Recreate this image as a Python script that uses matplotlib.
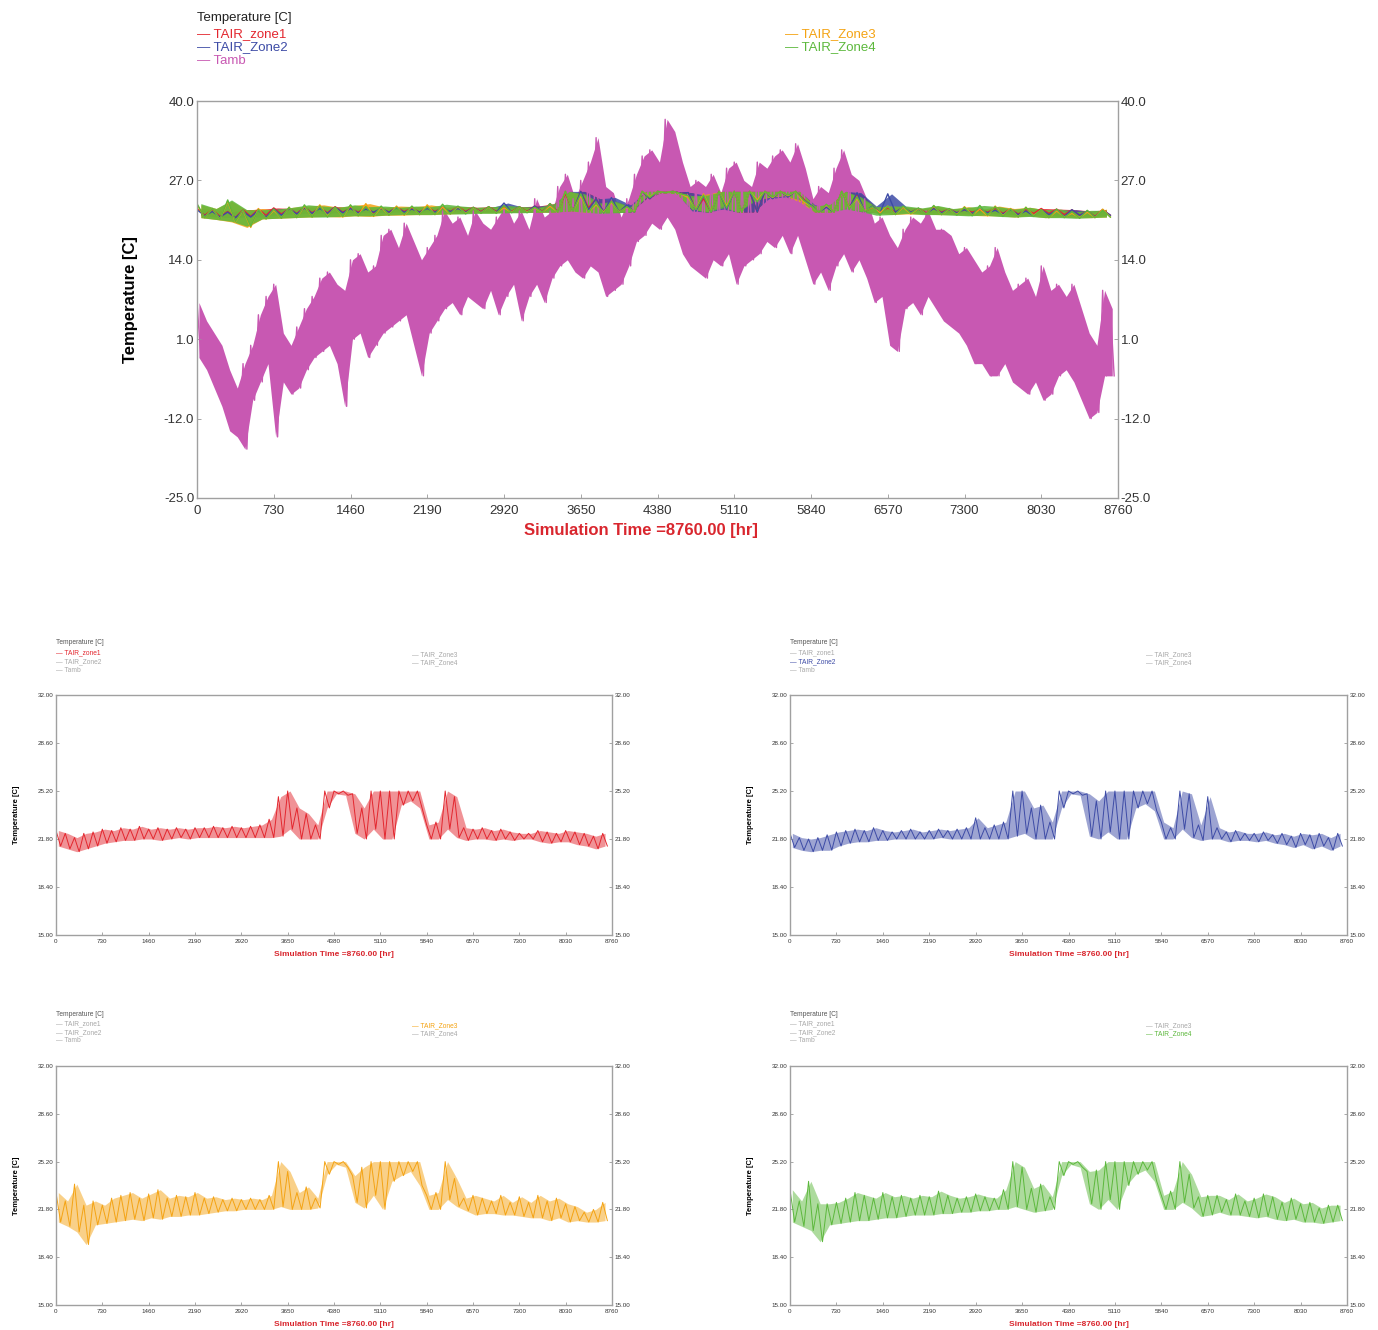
# Annual zone air temperatures vs. ambient (hourly simulation, 8760 hr)
import numpy as np
import matplotlib.pyplot as plt

plt.rcParams['font.family'] = ['Liberation Sans', 'DejaVu Sans']

# ambient temperature: upper / lower envelope every 73 hr
tamb_step = 73
tamb_hi = [7, 4, 2, 0, -4, -7, -3, 0, 5, 8, 10, 2, 0, 3, 6, 8, 11, 12, 10, 9,
           14, 15, 12, 13, 18, 19, 16, 20, 17, 14, 16, 18, 22, 20, 21, 18, 22, 20, 19, 21,
           23, 20, 22, 19, 24, 21, 22, 26, 28, 24, 27, 30, 34, 26, 25, 21, 24, 28, 31, 32,
           30, 37, 35, 30, 26, 27, 26, 28, 25, 29, 30, 27, 26, 30, 29, 31, 32, 30, 33, 29,
           24, 26, 25, 29, 32, 28, 27, 24, 20, 21, 18, 16, 19, 21, 20, 22, 19, 19, 18, 15,
           16, 14, 12, 13, 16, 12, 9, 10, 11, 8, 13, 9, 10, 8, 10, 6, 2, 0, 9, 6]
tamb_lo = [-2, -4, -7, -10, -14, -15, -17, -9, -6, -3, -15, -6, -8, -7, -4, -2, -1, 0, -3, -10,
           1, 2, -2, 0, 2, 3, 4, 5, 0, -5, 2, 4, 6, 7, 5, 8, 7, 6, 9, 5,
           8, 10, 4, 8, 10, 7, 11, 13, 14, 12, 11, 13, 12, 8, 9, 10, 13, 17, 18, 20,
           19, 21, 19, 15, 13, 12, 11, 14, 13, 15, 10, 13, 14, 15, 17, 16, 18, 15, 18, 14,
           10, 12, 9, 13, 15, 12, 14, 11, 7, 8, 0, -1, 6, 7, 5, 8, 6, 4, 3, 2,
           0, -3, -3, -5, -5, -3, -6, -7, -8, -6, -9, -8, -5, -4, -6, -9, -12, -11, -5, -5]

# zone air temperatures: upper / lower envelope every 146 hr
zone_step = 146
zone1_hi = [22.4, 22.2, 21.9, 22.2, 22.3, 22.5, 22.4, 22.6, 22.5, 22.7,
            22.5, 22.6, 22.5, 22.6, 22.5, 22.6, 22.6, 22.7, 22.6, 22.7,
            22.6, 22.7, 22.8, 23.2, 24.8, 25.2, 24.0, 23.6, 22.8, 25.2,
            25.2, 25.2, 25.0, 24.0, 25.2, 25.2, 25.2, 25.2, 25.2, 25.2,
            22.8, 23.0, 25.2, 24.8, 22.6, 22.5, 22.6, 22.4, 22.5, 22.3,
            22.2, 22.2, 22.4, 22.3, 22.2, 22.4, 22.3, 22.2, 22.0, 22.2]
zone1_lo = [21.3, 21.1, 20.9, 21.1, 21.3, 21.5, 21.6, 21.7, 21.7, 21.8,
            21.8, 21.7, 21.8, 21.9, 21.8, 21.9, 21.9, 21.9, 21.9, 21.9,
            21.9, 21.9, 21.9, 21.9, 22.0, 22.5, 21.8, 21.8, 21.8, 24.0,
            25.0, 24.9, 22.2, 21.8, 22.5, 21.8, 21.8, 24.2, 24.5, 24.0,
            21.8, 21.8, 22.5, 21.9, 21.7, 21.8, 21.8, 21.7, 21.8, 21.7,
            21.8, 21.8, 21.6, 21.5, 21.6, 21.6, 21.4, 21.3, 21.1, 21.3]
zone2_hi = [22.2, 21.9, 21.8, 21.9, 22.1, 22.3, 22.4, 22.5, 22.4, 22.6,
            22.4, 22.3, 22.4, 22.5, 22.3, 22.4, 22.5, 22.4, 22.5, 22.6,
            23.3, 22.6, 22.8, 23.0, 25.2, 25.2, 24.0, 24.2, 23.0, 25.2,
            25.2, 25.2, 25.0, 24.5, 25.2, 25.2, 25.2, 25.2, 25.2, 25.2,
            23.0, 22.6, 25.2, 25.0, 22.8, 24.8, 22.6, 22.3, 22.4, 22.2,
            22.2, 22.3, 22.1, 22.2, 22.0, 22.2, 22.1, 22.2, 21.9, 22.2]
zone2_lo = [21.2, 21.0, 20.9, 21.0, 21.0, 21.3, 21.5, 21.6, 21.6, 21.7,
            21.7, 21.8, 21.8, 21.8, 21.8, 21.8, 21.9, 21.8, 21.8, 21.8,
            21.8, 21.8, 21.8, 21.8, 22.0, 22.2, 21.8, 21.8, 21.8, 24.0,
            25.0, 24.9, 22.0, 21.8, 22.3, 21.8, 21.8, 24.0, 24.3, 23.8,
            21.8, 21.8, 22.5, 21.9, 21.7, 21.8, 21.8, 21.6, 21.7, 21.7,
            21.6, 21.7, 21.5, 21.4, 21.2, 21.4, 21.1, 21.3, 21.0, 21.3]
zone3_hi = [23.0, 22.4, 23.6, 22.1, 22.4, 22.1, 22.6, 22.8, 23.0, 22.6,
            22.9, 23.2, 22.6, 22.8, 22.7, 23.0, 22.6, 22.7, 22.5, 22.6,
            22.5, 22.6, 22.5, 22.8, 25.2, 24.5, 23.0, 23.4, 22.6, 25.2,
            25.2, 25.2, 24.2, 24.8, 25.2, 25.2, 25.2, 25.2, 25.2, 25.2,
            22.8, 23.0, 25.2, 24.0, 22.6, 22.8, 22.6, 22.4, 22.8, 22.3,
            22.7, 22.3, 22.8, 22.4, 22.6, 22.2, 22.0, 21.6, 21.8, 22.3]
zone3_lo = [20.9, 20.6, 20.2, 19.3, 20.7, 20.8, 20.9, 21.0, 21.1, 21.0,
            21.2, 21.1, 21.3, 21.3, 21.4, 21.4, 21.5, 21.6, 21.7, 21.7,
            21.8, 21.8, 21.8, 21.8, 22.0, 21.8, 21.8, 21.8, 21.9, 24.3,
            25.0, 24.8, 22.3, 21.9, 22.8, 21.8, 23.8, 24.2, 24.5, 23.5,
            21.8, 21.8, 22.5, 22.0, 21.7, 21.4, 21.5, 21.5, 21.4, 21.4,
            21.3, 21.2, 21.2, 21.0, 21.2, 20.9, 21.0, 20.9, 20.9, 21.0]
zone4_hi = [23.2, 22.4, 23.8, 22.2, 22.2, 22.3, 22.6, 23.0, 22.8, 22.6,
            23.0, 22.7, 22.8, 22.6, 22.8, 22.7, 23.1, 22.8, 22.6, 22.7,
            22.9, 22.7, 22.6, 23.2, 25.2, 24.8, 23.3, 23.6, 22.7, 25.2,
            25.2, 25.2, 24.5, 24.6, 25.2, 25.2, 25.2, 25.2, 25.2, 25.2,
            22.8, 23.1, 25.2, 24.3, 22.7, 22.8, 22.8, 22.5, 22.9, 22.4,
            22.6, 22.9, 22.7, 22.3, 22.6, 22.2, 22.3, 21.9, 22.1, 22.1]
zone4_lo = [20.9, 20.6, 20.3, 19.5, 20.7, 20.8, 20.9, 21.0, 21.0, 21.1,
            21.2, 21.2, 21.3, 21.4, 21.4, 21.4, 21.5, 21.5, 21.6, 21.6,
            21.7, 21.7, 21.8, 21.8, 22.0, 21.8, 21.6, 21.7, 21.8, 24.2,
            25.0, 24.8, 22.2, 21.8, 22.5, 21.8, 23.5, 24.3, 24.6, 23.8,
            21.8, 21.8, 22.3, 21.9, 21.3, 21.4, 21.6, 21.4, 21.4, 21.3,
            21.2, 21.3, 21.1, 21.0, 21.1, 20.9, 20.9, 20.8, 20.9, 21.0]

colors = {'TAIR_zone1': '#e3262e', 'TAIR_Zone2': '#3d4ba6', 'Tamb': '#c858b2',
          'TAIR_Zone3': '#f4a313', 'TAIR_Zone4': '#5cb83c'}
zones = {'TAIR_zone1': (zone1_hi, zone1_lo), 'TAIR_Zone2': (zone2_hi, zone2_lo),
         'TAIR_Zone3': (zone3_hi, zone3_lo), 'TAIR_Zone4': (zone4_hi, zone4_lo)}

hour_ticks = np.arange(0, 8761, 730)
sim_title = 'Simulation Time =8760.00 [hr]'
ylab = 'Temperature [C]'
title_red = '#d9262e'


def draw_trace(ax, hi, lo, step, color, lw, alpha):
    # band between interval max / min, plus a zigzag through them for the hourly swing
    hi = np.asarray(hi, float)
    lo = np.asarray(lo, float)
    t0 = np.arange(len(hi)) * step
    x = np.column_stack([t0, t0 + step / 2]).ravel()
    y = np.column_stack([hi, lo]).ravel()
    ax.fill_between(t0 + step / 4, lo, hi, color=color, alpha=alpha, lw=0)
    ax.plot(x, y, color=color, lw=lw)


W, H = 1378, 1330
fig = plt.figure(figsize=(W / 100, H / 100), dpi=100)


def px_axes(x0, y0, x1, y1):
    return fig.add_axes([x0 / W, 1 - y1 / H, (x1 - x0) / W, (y1 - y0) / H])


def style_axes(ax, yticks, fmt, fs, tick_len, xpad):
    ax.set_xlim(0, 8760)
    ax.set_ylim(yticks[0], yticks[-1])
    ax.set_xticks(hour_ticks)
    ax.set_xticklabels([str(v) for v in hour_ticks], fontsize=fs, color='#333333')
    ax.set_yticks(yticks)
    ax.set_yticklabels([fmt.format(v) for v in yticks], fontsize=fs, color='#333333')
    ax.tick_params(axis='both', direction='in', length=tick_len, width=0.6, color='#999999',
                   right=True, labelright=True, pad=2)
    ax.tick_params(axis='x', pad=xpad)
    for s in ax.spines.values():
        s.set_color('#a0a0a0')
        s.set_linewidth(1.0)


# ---- annual overview ----
ax = px_axes(197, 101, 1118, 498)
style_axes(ax, np.arange(-25, 41, 13), '{:.1f}', 9.5, 3, 5)
draw_trace(ax, tamb_hi, tamb_lo, tamb_step, colors['Tamb'], 1.0, 1.0)
for name in ['TAIR_zone1', 'TAIR_Zone2', 'TAIR_Zone3', 'TAIR_Zone4']:
    hi, lo = zones[name]
    draw_trace(ax, hi, lo, zone_step, colors[name], 1.0, 0.85)

fs = 9.5
fig.text(197 / W, 1 - 18 / H, ylab, fontsize=fs, color='#222222', va='center')
for k, name in enumerate(['TAIR_zone1', 'TAIR_Zone2', 'Tamb']):
    fig.text(197 / W, 1 - (34 + 13.5 * k) / H, '— ' + name, fontsize=fs,
             color=colors[name], va='center')
for k, name in enumerate(['TAIR_Zone3', 'TAIR_Zone4']):
    fig.text(785 / W, 1 - (34 + 13.5 * k) / H, '— ' + name, fontsize=fs,
             color=colors[name], va='center')
fig.text(131 / W, 1 - 300 / H, ylab, rotation=90, fontsize=12, fontweight='bold',
         ha='center', va='center')
fig.text(641 / W, 1 - 530 / H, sim_title, fontsize=12, fontweight='bold', color=title_red,
         ha='center', va='center')

# ---- one panel per zone ----
panels = [('TAIR_zone1', 56, 695, 612, 935),
          ('TAIR_Zone2', 790, 695, 1347, 935),
          ('TAIR_Zone3', 56, 1066, 612, 1305),
          ('TAIR_Zone4', 790, 1066, 1347, 1305)]
small_ticks = np.array([15.0, 18.4, 21.8, 25.2, 28.6, 32.0])
fs = 4.8

for name, x0, y0, x1, y1 in panels:
    ax = px_axes(x0, y0, x1, y1)
    style_axes(ax, small_ticks, '{:.2f}', 4.5, 2, 3)
    hi, lo = zones[name]
    draw_trace(ax, hi, lo, zone_step, colors[name], 0.7, 0.5)

    fig.text(x0 / W, 1 - (y0 - 52) / H, ylab, fontsize=fs, color='#555555', va='center')
    for k, other in enumerate(['TAIR_zone1', 'TAIR_Zone2', 'Tamb']):
        c = colors[other] if other == name else '#a8a8a8'
        fig.text(x0 / W, 1 - (y0 - 42 + 8.5 * k) / H, '— ' + other, fontsize=fs,
                 color=c, va='center')
    for k, other in enumerate(['TAIR_Zone3', 'TAIR_Zone4']):
        c = colors[other] if other == name else '#a8a8a8'
        fig.text((x0 + 356) / W, 1 - (y0 - 40 + 7.5 * k) / H, '— ' + other, fontsize=fs,
                 color=c, va='center')
    fig.text((x0 - 39) / W, 1 - (y0 + y1) / 2 / H, ylab, rotation=90, fontsize=5.5,
             fontweight='bold', ha='center', va='center')
    fig.text((x0 + x1) / 2 / W, 1 - (y1 + 19) / H, sim_title, fontsize=6, fontweight='bold',
             color=title_red, ha='center', va='center')

fig.savefig('out.png', dpi=100)
